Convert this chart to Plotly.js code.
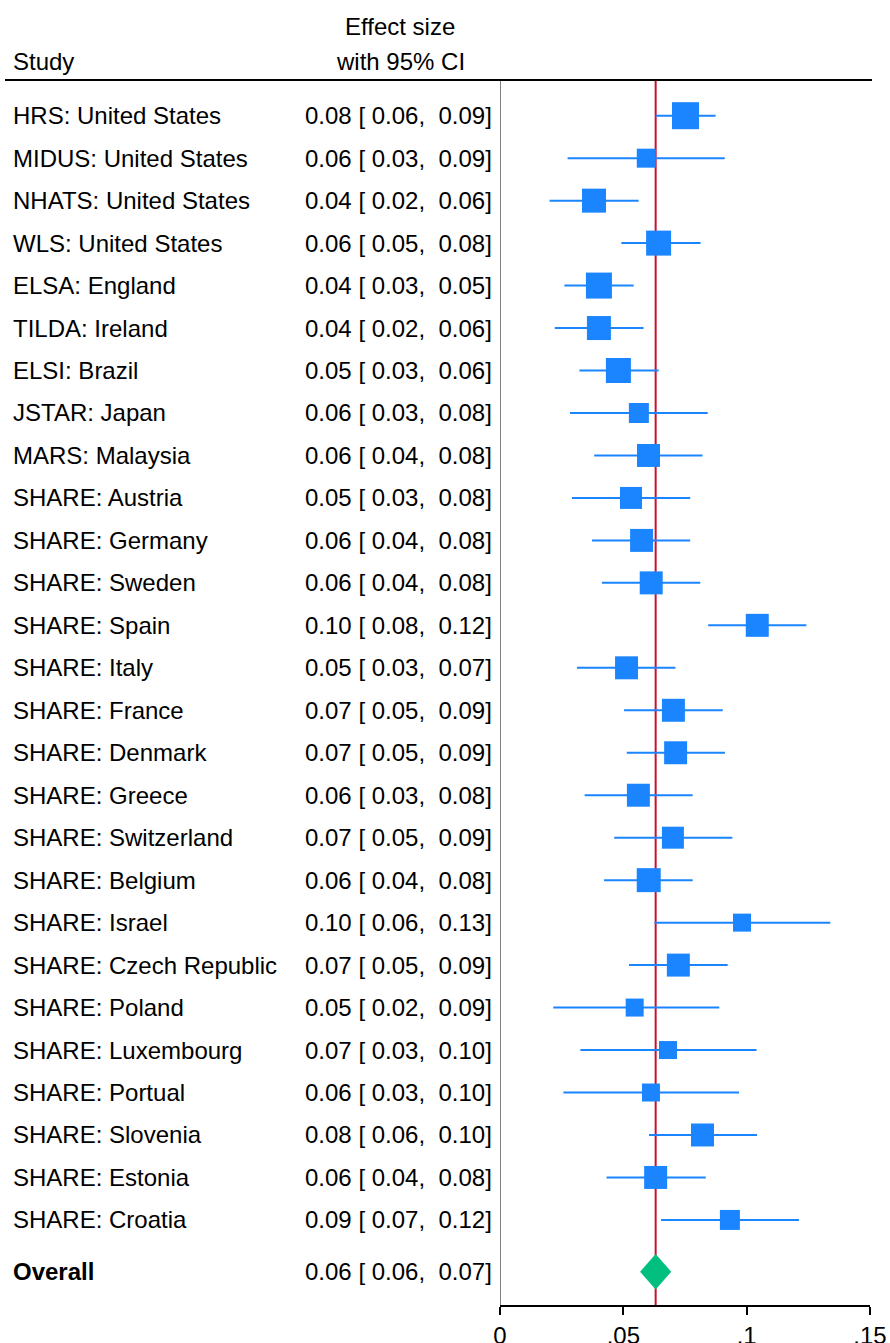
<!DOCTYPE html>
<html>
<head>
<meta charset="utf-8">
<script src="https://cdn.plot.ly/plotly-3.0.1.min.js"></script>
<style>html,body{margin:0;padding:0;background:#fff;}#chart{width:890px;height:1343px;}</style>
</head>
<body>
<div id="chart"></div>
<script>
// ---------- data ----------
var studies = [
  "HRS: United States", "MIDUS: United States", "NHATS: United States", "WLS: United States",
  "ELSA: England", "TILDA: Ireland", "ELSI: Brazil", "JSTAR: Japan", "MARS: Malaysia",
  "SHARE: Austria", "SHARE: Germany", "SHARE: Sweden", "SHARE: Spain", "SHARE: Italy",
  "SHARE: France", "SHARE: Denmark", "SHARE: Greece", "SHARE: Switzerland", "SHARE: Belgium",
  "SHARE: Israel", "SHARE: Czech Republic", "SHARE: Poland", "SHARE: Luxembourg",
  "SHARE: Portual", "SHARE: Slovenia", "SHARE: Estonia", "SHARE: Croatia"
];
var effect = [0.0752, 0.0593, 0.0381, 0.0643, 0.0401, 0.0401, 0.0480, 0.0563, 0.0602,
  0.0531, 0.0574, 0.0613, 0.1043, 0.0513, 0.0703, 0.0712, 0.0561, 0.0701, 0.0603,
  0.0981, 0.0723, 0.0546, 0.0681, 0.0612, 0.0821, 0.0631, 0.0932];
var ciLow = [0.0631, 0.0274, 0.0201, 0.0492, 0.0261, 0.0222, 0.0322, 0.0284, 0.0382,
  0.0292, 0.0373, 0.0413, 0.0844, 0.0312, 0.0503, 0.0514, 0.0343, 0.0463, 0.0422,
  0.0626, 0.0523, 0.0216, 0.0326, 0.0257, 0.0604, 0.0432, 0.0653];
var ciHigh = [0.0874, 0.0911, 0.0562, 0.0813, 0.0542, 0.0582, 0.0643, 0.0842, 0.0821,
  0.0771, 0.0771, 0.0812, 0.1242, 0.0711, 0.0903, 0.0912, 0.0781, 0.0942, 0.0781,
  0.1339, 0.0923, 0.0889, 0.1040, 0.0969, 0.1042, 0.0834, 0.1212];
var weights = [5.35, 2.65, 4.23, 4.59, 4.96, 4.23, 4.59, 2.94, 3.88,
  3.55, 3.88, 3.88, 3.88, 3.88, 3.88, 3.88, 3.88, 3.55, 4.23,
  2.38, 3.88, 2.38, 2.38, 2.38, 3.88, 3.88, 2.94];
var overallLabel = "Overall";
var overallEffect = 0.0631, overallLow = 0.0569, overallHigh = 0.0693;
var tickVals = [0, 0.05, 0.1, 0.15];
var tickText = ["0", ".05", ".1", ".15"];
var headerStudy = "Study";
var headerEffect1 = "Effect size";
var headerEffect2 = "with 95% CI";

// ---------- build ----------
var BLUE = "rgb(26,133,255)", GREEN = "rgb(0,191,127)", RED = "rgb(200,16,46)";
var FONT = "Liberation Sans, Arial, Helvetica, sans-serif";
var FS = 24;
var n = studies.length;
var rowY = studies.map(function (_, i) { return i + 1; });
var overallY = n + 1.22;
var NB = "\u00a0";
function fmt(e, l, h) {
  return e.toFixed(2) + " [" + NB + l.toFixed(2) + "," + NB + NB + h.toFixed(2) + "]";
}

var ciX = [], ciY = [];
for (var i = 0; i < n; i++) {
  ciX.push(ciLow[i], ciHigh[i], null);
  ciY.push(rowY[i], rowY[i], null);
}
var traces = [
  { type: "scatter", mode: "lines", x: ciX, y: ciY, line: { color: BLUE, width: 2 }, hoverinfo: "skip", showlegend: false },
  { type: "scatter", mode: "markers", x: effect, y: rowY,
    marker: { symbol: "square", color: BLUE, opacity: 1,
      size: weights.map(function (w) { return Math.sqrt(w) * 11.67; }), line: { width: 0 } },
    showlegend: false },
  { type: "scatter", mode: "lines", fill: "toself", fillcolor: GREEN,
    x: [overallLow, overallEffect, overallHigh, overallEffect, overallLow],
    y: [overallY, overallY - 0.41, overallY, overallY + 0.41, overallY],
    line: { color: GREEN, width: 0.5 }, showlegend: false }
];

var W = 890, H = 1343, ML = 500, MR = 20, MT = 80, MB = 38;
var PW = W - ML - MR, PH = H - MT - MB;
function px2paperX(p) { return (p - ML) / PW; }
function px2paperY(p) { return (H - MB - p) / PH; }

var txtFont = { family: FONT, size: FS, color: "#000" };
var annotations = [];
for (var j = 0; j < n; j++) {
  annotations.push({ xref: "paper", yref: "y", x: px2paperX(11), y: rowY[j], xanchor: "left", yanchor: "middle",
    text: studies[j], showarrow: false, font: txtFont });
  annotations.push({ xref: "paper", yref: "y", x: px2paperX(494), y: rowY[j], xanchor: "right", yanchor: "middle",
    text: fmt(effect[j], ciLow[j], ciHigh[j]), showarrow: false, font: txtFont });
}
annotations.push({ xref: "paper", yref: "y", x: px2paperX(11), y: overallY, xanchor: "left", yanchor: "middle",
  text: "<b>" + overallLabel + "</b>", showarrow: false, font: txtFont });
annotations.push({ xref: "paper", yref: "y", x: px2paperX(494), y: overallY, xanchor: "right", yanchor: "middle",
  text: fmt(overallEffect, overallLow, overallHigh), showarrow: false, font: txtFont });
annotations.push({ xref: "paper", yref: "paper", x: px2paperX(11), y: px2paperY(61), xanchor: "left", yanchor: "middle",
  text: headerStudy, showarrow: false, font: txtFont });
annotations.push({ xref: "paper", yref: "paper", x: px2paperX(400), y: px2paperY(27), xanchor: "center", yanchor: "middle",
  text: headerEffect1, showarrow: false, font: txtFont });
annotations.push({ xref: "paper", yref: "paper", x: px2paperX(400), y: px2paperY(61), xanchor: "center", yanchor: "middle",
  text: headerEffect2, showarrow: false, font: txtFont });

var shapes = [
  { type: "line", xref: "paper", yref: "paper", x0: px2paperX(5), x1: px2paperX(872), y0: 1, y1: 1,
    line: { color: "#000", width: 2 } },
  { type: "line", xref: "x", yref: "paper", x0: 0, x1: 0, y0: 0, y1: 1, layer: "below",
    line: { color: "rgb(128,128,128)", width: 2 } },
  { type: "line", xref: "x", yref: "paper", x0: overallEffect, x1: overallEffect, y0: 0, y1: 1, layer: "below",
    line: { color: RED, width: 2 } }
];

var rowPx = 42.47;
var layout = {
  width: W, height: H,
  margin: { l: ML, r: MR, t: MT, b: MB, pad: 0 },
  paper_bgcolor: "#fff", plot_bgcolor: "#fff",
  showlegend: false,
  font: txtFont,
  xaxis: {
    range: [0, 0.15], tickvals: tickVals, ticktext: tickText,
    showgrid: false, zeroline: false, showline: true, linecolor: "#000", linewidth: 2,
    ticks: "outside", ticklen: 8, tickwidth: 2, tickcolor: "#000",
    tickfont: txtFont, fixedrange: true
  },
  yaxis: {
    range: [1 + (PH + MT - 115.7) / rowPx, 1 - (115.7 - MT) / rowPx],
    showgrid: false, zeroline: false, showline: false, showticklabels: false, ticks: "", fixedrange: true
  },
  annotations: annotations,
  shapes: shapes
};

Plotly.newPlot("chart", traces, layout, { displayModeBar: false, staticPlot: true });
</script>
</body>
</html>
